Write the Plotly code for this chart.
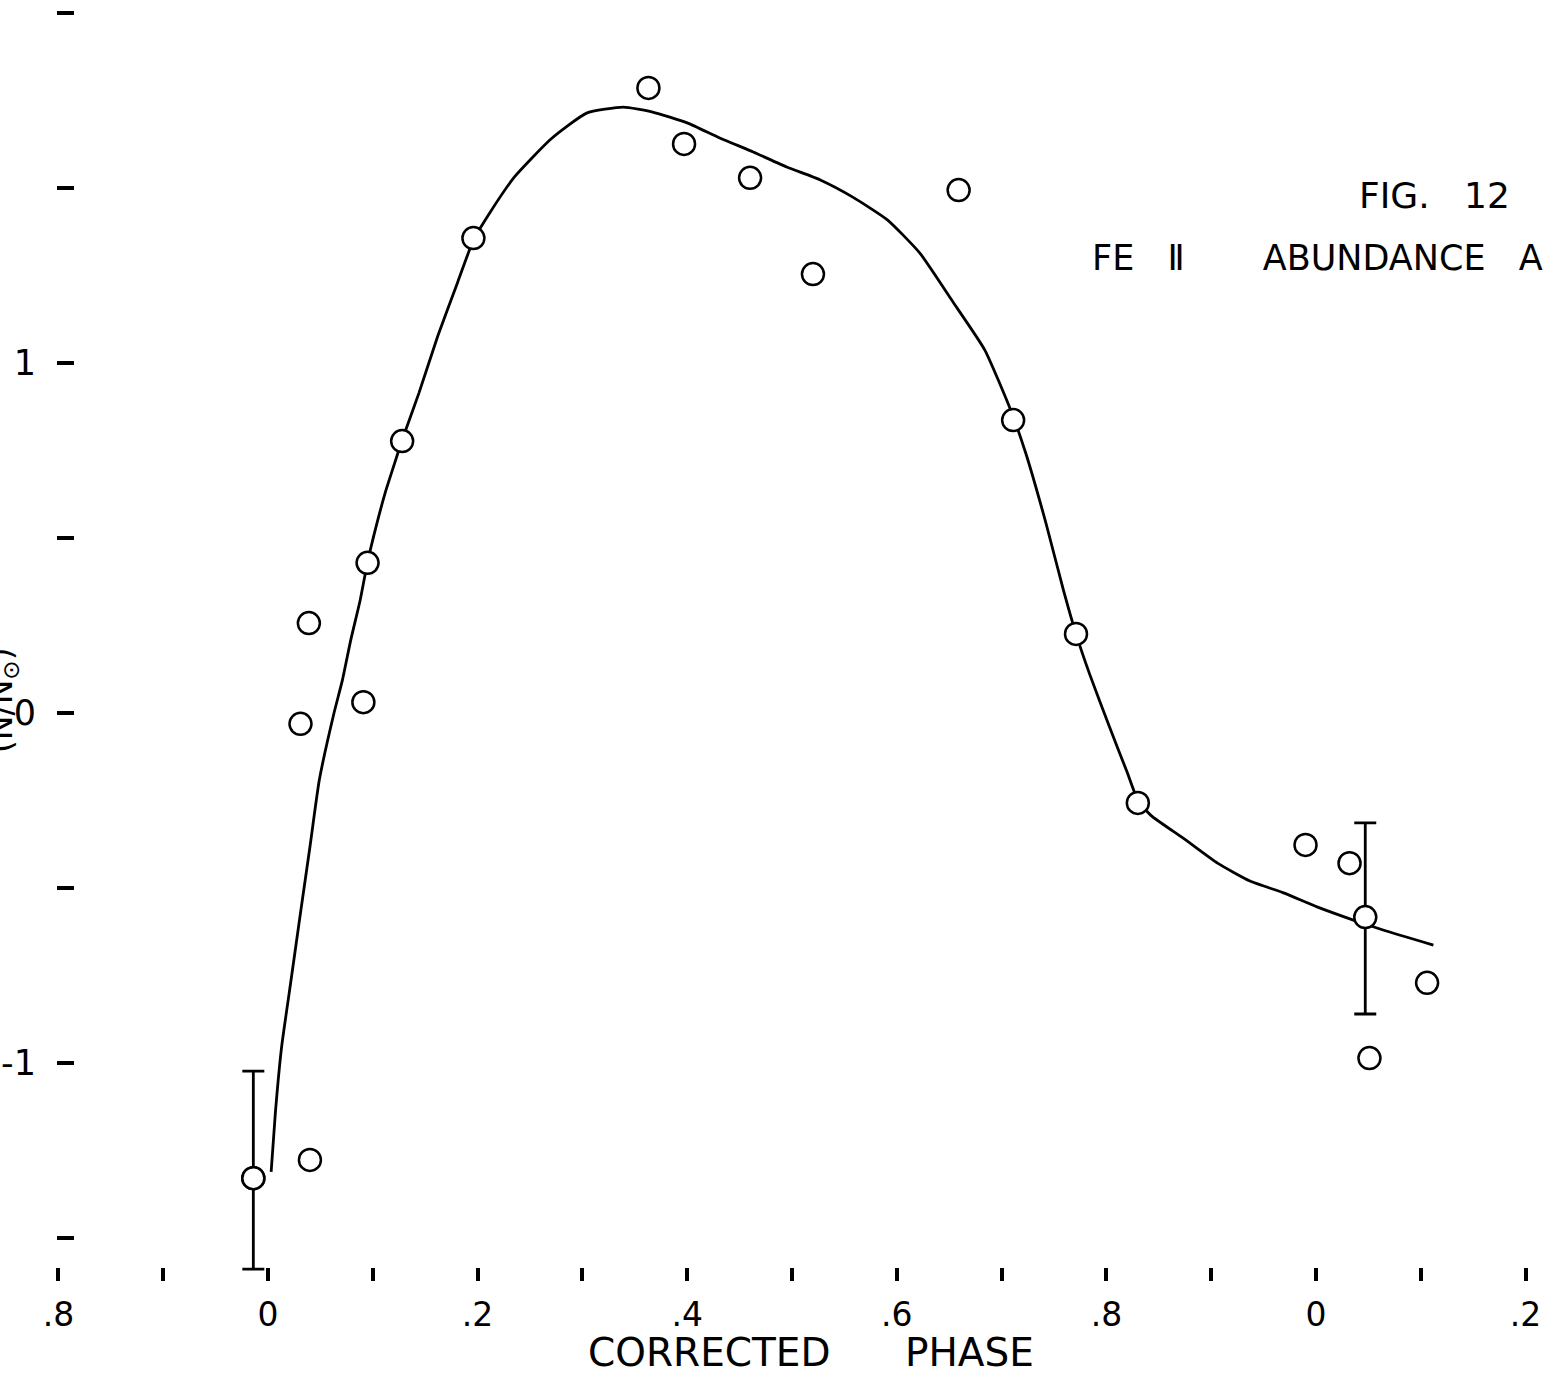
import plotly.graph_objects as go

# Observed Fe II abundances vs corrected phase
phase_pts = [-0.014, 0.040, 0.031, 0.039, 0.091, 0.095, 0.128, 0.196, 0.363, 0.397,
             0.460, 0.520, 0.659, 0.711, 0.771, 0.830, 0.990, 1.032, 1.106, 1.051]
logab_pts = [-1.329, -1.277, -0.031, 0.257, 0.031, 0.429, 0.777, 1.357, 1.786, 1.626,
             1.529, 1.254, 1.494, 0.837, 0.226, -0.257, -0.377, -0.429, -0.771, -0.986]

# Points carrying error bars
phase_err = [-0.014, 1.047]
logab_err = [-1.329, -0.583]
err_up = [0.306, 0.269]
err_down = [0.260, 0.277]

# Hand-drawn mean curve
phase_curve = [0.003, 0.007, 0.013, 0.022, 0.031, 0.040, 0.049, 0.063, 0.071, 0.079,
               0.088, 0.095, 0.103, 0.112, 0.120, 0.128, 0.144, 0.162, 0.181, 0.196,
               0.212, 0.235, 0.270, 0.304, 0.339, 0.367, 0.400, 0.431, 0.463, 0.495,
               0.527, 0.558, 0.591, 0.622, 0.653, 0.684, 0.709, 0.723, 0.742, 0.759,
               0.771, 0.784, 0.803, 0.820, 0.830, 0.843, 0.873, 0.906, 0.937, 0.969,
               1.001, 1.035, 1.064, 1.112]
logab_curve = [-1.311, -1.143, -0.954, -0.763, -0.571, -0.383, -0.191, 0.000, 0.094, 0.209,
               0.323, 0.431, 0.531, 0.631, 0.706, 0.780, 0.914, 1.077, 1.231, 1.351,
               1.431, 1.531, 1.640, 1.714, 1.731, 1.717, 1.686, 1.643, 1.603, 1.560,
               1.523, 1.474, 1.409, 1.314, 1.177, 1.037, 0.863, 0.743, 0.546, 0.351,
               0.226, 0.111, -0.040, -0.171, -0.249, -0.294, -0.357, -0.429, -0.480, -0.514,
               -0.554, -0.591, -0.620, -0.663]

x_tickvals = [-0.2, -0.1, 0.0, 0.1, 0.2, 0.3, 0.4, 0.5, 0.6, 0.7, 0.8, 0.9, 1.0, 1.1, 1.2]
x_ticktext = [".8", "", "0", "", ".2", "", ".4", "", ".6", "", ".8", "", "0", "", ".2"]
y_tickvals = [2.0, 1.5, 1.0, 0.5, 0.0, -0.5, -1.0, -1.5]
y_ticktext = ["", "", "1", "", "0", "", "-1", ""]

W, H = 1545, 1377
FONT = "DejaVu Sans"

fig = go.Figure()
fig.add_trace(go.Scatter(
    x=phase_curve, y=logab_curve, mode="lines",
    line=dict(color="black", width=2.8, shape="spline", smoothing=0.5),
    hoverinfo="skip", showlegend=False))
fig.add_trace(go.Scatter(
    x=phase_pts, y=logab_pts, mode="markers",
    marker=dict(symbol="circle", size=22, color="white",
                line=dict(color="black", width=2.5)),
    showlegend=False))
fig.add_trace(go.Scatter(
    x=phase_err, y=logab_err, mode="markers",
    marker=dict(symbol="circle", size=22, color="white",
                line=dict(color="black", width=2.5)),
    error_y=dict(type="data", symmetric=False, array=err_up, arrayminus=err_down,
                 color="black", thickness=2.8, width=11),
    showlegend=False))

fig.update_layout(
    width=W, height=H,
    margin=dict(l=0, r=0, t=0, b=0, pad=0),
    paper_bgcolor="white", plot_bgcolor="white",
    font=dict(family=FONT, color="black"),
    xaxis=dict(
        range=[-268 / 1048, 1277 / 1048],
        anchor="free", position=110 / H,
        showline=False, showgrid=False, zeroline=False,
        ticks="outside", ticklen=13, tickwidth=3.5, tickcolor="black",
        tickvals=x_tickvals, ticktext=x_ticktext,
        tickfont=dict(family=FONT, size=33, color="black"),
        ticklabelstandoff=5, automargin=False,
    ),
    yaxis=dict(
        range=[(713 - 1377) / 350, 713 / 350],
        anchor="free", position=74 / W,
        showline=False, showgrid=False, zeroline=False,
        ticks="outside", ticklen=17, tickwidth=3.5, tickcolor="black",
        tickvals=y_tickvals, ticktext=y_ticktext,
        tickfont=dict(family=FONT, size=35, color="black"),
        ticklabelstandoff=14, automargin=False,
    ),
    annotations=[
        dict(text="CORRECTED      PHASE", x=811 / W, y=1 / H,
             xref="paper", yref="paper", xanchor="center", yanchor="bottom",
             borderpad=0, showarrow=False,
             font=dict(family=FONT, size=39, color="black")),
        dict(text="FIG.   12", x=1434 / W, y=1 - 195 / H, xref="paper", yref="paper",
             xanchor="center", yanchor="middle", showarrow=False,
             font=dict(family=FONT, size=36, color="black")),
        dict(text="FE   Ⅱ       ABUNDANCE   A", x=1090 / W, y=1 - 258 / H,
             xref="paper", yref="paper", xanchor="left", yanchor="middle",
             showarrow=False, font=dict(family=FONT, size=35, color="black")),
        dict(text="(N/N<sub>⊙</sub>)", x=3 / W, y=1 - 700 / H, xref="paper", yref="paper",
             xanchor="center", yanchor="middle", textangle=-90, showarrow=False,
             font=dict(family=FONT, size=33, color="black")),
    ],
)

fig.write_html("out.html")
